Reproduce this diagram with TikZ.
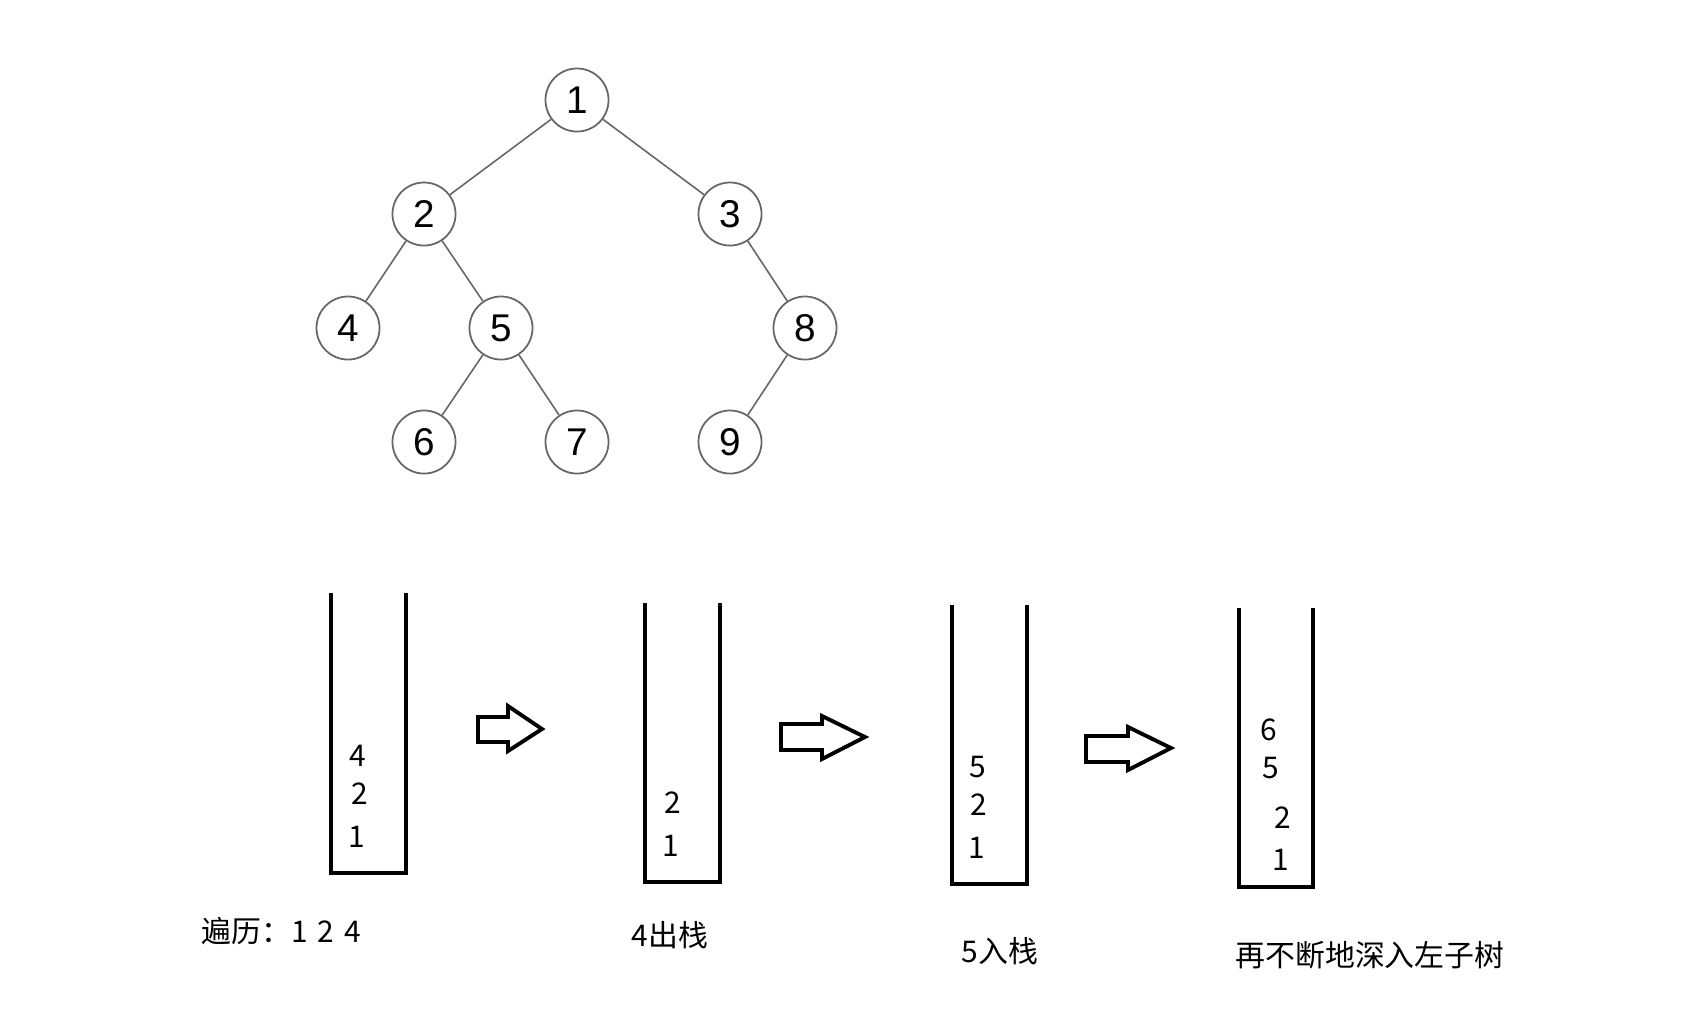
\documentclass[tikz,border=0pt]{standalone}
\usepackage{fontspec}
\setmainfont{Liberation Sans}
\newfontfamily\cjkfont{Noto Sans CJK SC}

\begin{document}
\begin{tikzpicture}[x=0.01cm, y=-0.01cm,
  treenode/.style={circle, draw=black!60, line width=0.5pt, minimum size=0.63cm, inner sep=0pt, font=\fontsize{11}{13}\selectfont},
  treeedge/.style={draw=black!60, line width=0.45pt},
  stackwall/.style={line width=1pt, line join=miter},
  stackitem/.style={font=\cjkfont\fontsize{8.5}{10}\selectfont, inner sep=0pt},
  bigarrow/.style={line width=1.1pt, line join=miter},
  caption/.style={font=\cjkfont\fontsize{8.5}{10}\selectfont, inner sep=0pt}]
\useasboundingbox (0,0) rectangle (1685,1014);
% Tree
\node[treenode] (n1) at (577,100) {1};
\node[treenode] (n2) at (424,214) {2};
\node[treenode] (n3) at (730,214) {3};
\node[treenode] (n4) at (348,328) {4};
\node[treenode] (n5) at (501,328) {5};
\node[treenode] (n8) at (805,328) {8};
\node[treenode] (n6) at (424,442) {6};
\node[treenode] (n7) at (577,442) {7};
\node[treenode] (n9) at (730,442) {9};
\foreach \a/\b in {n1/n2, n1/n3, n2/n4, n2/n5, n3/n8, n5/n6, n5/n7, n8/n9}
  \draw[treeedge] (\a) -- (\b);
% Stack 1
\draw[stackwall] (331,593) -- (331,873) -- (406,873) -- (406,593);
\node[stackitem] (s1c) at (358,756) {4};
\node[stackitem] (s1b) at (360,794) {2};
\node[stackitem] (s1a) at (357,837) {1};
\node[caption, anchor=west] (cap1) at (201,931) {遍历：1\,\,2\,\,4};
% Arrow 1
\draw[bigarrow] (478,717) -- (508,717) -- (508,706) -- (542,729) -- (508,751) -- (508,742) -- (478,742) -- cycle;
% Stack 2
\draw[stackwall] (645,603) -- (645,882) -- (720,882) -- (720,603);
\node[stackitem] (s2b) at (673,803) {2};
\node[stackitem] (s2a) at (671,846) {1};
\node[caption] (cap2) at (670,935) {4出栈};
% Arrow 2
\draw[bigarrow] (781,724) -- (822,724) -- (822,716) -- (865,737) -- (822,759) -- (822,750) -- (781,750) -- cycle;
% Stack 3
\draw[stackwall] (952,605) -- (952,884) -- (1027,884) -- (1027,605);
\node[stackitem] (s3c) at (978,767) {5};
\node[stackitem] (s3b) at (979,805) {2};
\node[stackitem] (s3a) at (977,848) {1};
\node[caption] (cap3) at (1000,951) {5入栈};
% Arrow 3
\draw[bigarrow] (1086,736) -- (1128,736) -- (1128,727) -- (1171,748) -- (1128,770) -- (1128,762) -- (1086,762) -- cycle;
% Stack 4
\draw[stackwall] (1239,608) -- (1239,887) -- (1313,887) -- (1313,608);
\node[stackitem] (s4d) at (1269,730) {6};
\node[stackitem] (s4c) at (1271,768) {5};
\node[stackitem] (s4b) at (1283,818) {2};
\node[stackitem] (s4a) at (1281,860) {1};
\node[caption] (cap4) at (1370,955) {再不断地深入左子树};
\end{tikzpicture}
\end{document}
